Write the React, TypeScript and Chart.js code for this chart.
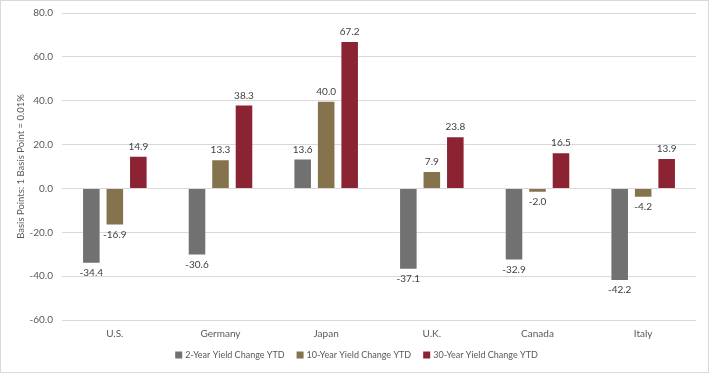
import React, { useEffect, useRef } from "react";
import { Chart, registerables } from "chart.js";

Chart.register(...registerables);

const categories = ["U.S.", "Germany", "Japan", "U.K.", "Canada", "Italy"];
const twoYear = [-34.4, -30.6, 13.6, -37.1, -32.9, -42.2];
const tenYear = [-16.9, 13.3, 40.0, 7.9, -2.0, -4.2];
const thirtyYear = [14.9, 38.3, 67.2, 23.8, 16.5, 13.9];
const seriesNames = ["2-Year Yield Change YTD", "10-Year Yield Change YTD", "30-Year Yield Change YTD"];
const seriesColors = ["#717171", "#85734d", "#8b2332"];
const yTitle = "Basis Points: 1 Basis Point = 0.01%";

const FONT = "Lato, 'Open Sans', sans-serif";

const labelPlugin = {
  id: "valueLabels",
  afterDatasetsDraw(chart: any) {
    const ctx = chart.ctx;
    ctx.save();
    ctx.font = `10px ${FONT}`;
    ctx.fillStyle = "#404040";
    ctx.textAlign = "center";
    chart.data.datasets.forEach((ds: any, di: number) => {
      const meta = chart.getDatasetMeta(di);
      meta.data.forEach((bar: any, i: number) => {
        const v = ds.data[i];
        const txt = v.toFixed(1);
        if (v >= 0) {
          ctx.textBaseline = "bottom";
          ctx.fillText(txt, bar.x, bar.y - 4);
        } else {
          ctx.textBaseline = "top";
          ctx.fillText(txt, bar.x, bar.y + 4);
        }
      });
    });
    ctx.restore();
  },
};

const legendPlugin = {
  id: "customLegend",
  afterDraw(chart: any) {
    const ctx = chart.ctx;
    ctx.save();
    ctx.font = `9px ${FONT}`;
    const box = 7;
    const gapBoxText = 3;
    const gapItems = 12;
    const items = chart.data.datasets.map((ds: any) => ({
      label: ds.label,
      color: ds.backgroundColor,
      w: box + gapBoxText + ctx.measureText(ds.label).width,
    }));
    const total = items.reduce((a: number, it: any) => a + it.w, 0) + gapItems * (items.length - 1);
    let x = chart.width / 2 + 2 - total / 2;
    const y = 354;
    ctx.textBaseline = "middle";
    ctx.textAlign = "left";
    items.forEach((it: any) => {
      ctx.fillStyle = it.color;
      ctx.fillRect(x, y - box / 2, box, box);
      ctx.fillStyle = "#595959";
      ctx.fillText(it.label, x + box + gapBoxText, y + 0.5);
      x += it.w + gapItems;
    });
    ctx.restore();
  },
};

export default function App() {
  const ref = useRef<HTMLCanvasElement>(null);
  useEffect(() => {
    document.body.style.margin = "0";
    const data = [twoYear, tenYear, thirtyYear];
    const chart = new Chart(ref.current!, {
      type: "bar",
      data: {
        labels: categories,
        datasets: data.map((d, i) => ({
          label: seriesNames[i],
          data: d,
          backgroundColor: seriesColors[i],
          borderColor: "rgba(255,255,255,0.35)",
          borderWidth: 1,
          categoryPercentage: 0.667,
          barPercentage: 0.79,
        })),
      },
      options: {
        animation: false,
        responsive: false,
        maintainAspectRatio: false,
        layout: { padding: { top: 12, right: 12, bottom: 32, left: 0 } },
        plugins: {
          tooltip: { enabled: false },
          legend: { display: false },
        },
        scales: {
          x: {
            grid: { display: false, drawTicks: false },
            border: { display: false },
            afterFit: (s: any) => {
              s.height = 20;
            },
            ticks: { font: { family: FONT, size: 10 }, color: "#595959", padding: 8 },
          },
          y: {
            min: -60,
            max: 80,
            afterFit: (s: any) => {
              s.width = 61;
              s.paddingTop = 0;
              s.paddingBottom = 0;
            },
            ticks: {
              stepSize: 20,
              font: { family: FONT, size: 10 },
              color: "#595959",
              padding: 9,
              callback: (v: any) => Number(v).toFixed(1),
            },
            grid: { color: "#d9d9d9", drawTicks: false },
            border: { display: false },
            title: {
              display: true,
              text: yTitle,
              font: { family: FONT, size: 9.5 },
              color: "#595959",
              padding: { top: 14, bottom: 0 },
            },
          },
        },
      },
      plugins: [labelPlugin, legendPlugin],
    } as any);
    return () => chart.destroy();
  }, []);
  return (
    <div
      style={{
        position: "absolute",
        left: 0,
        top: 0,
        width: 709,
        height: 373,
        border: "1px solid #d9d9d9",
        boxSizing: "border-box",
        background: "#fff",
      }}
    >
      <canvas ref={ref} width={707} height={371} style={{ display: "block" }} />
    </div>
  );
}
